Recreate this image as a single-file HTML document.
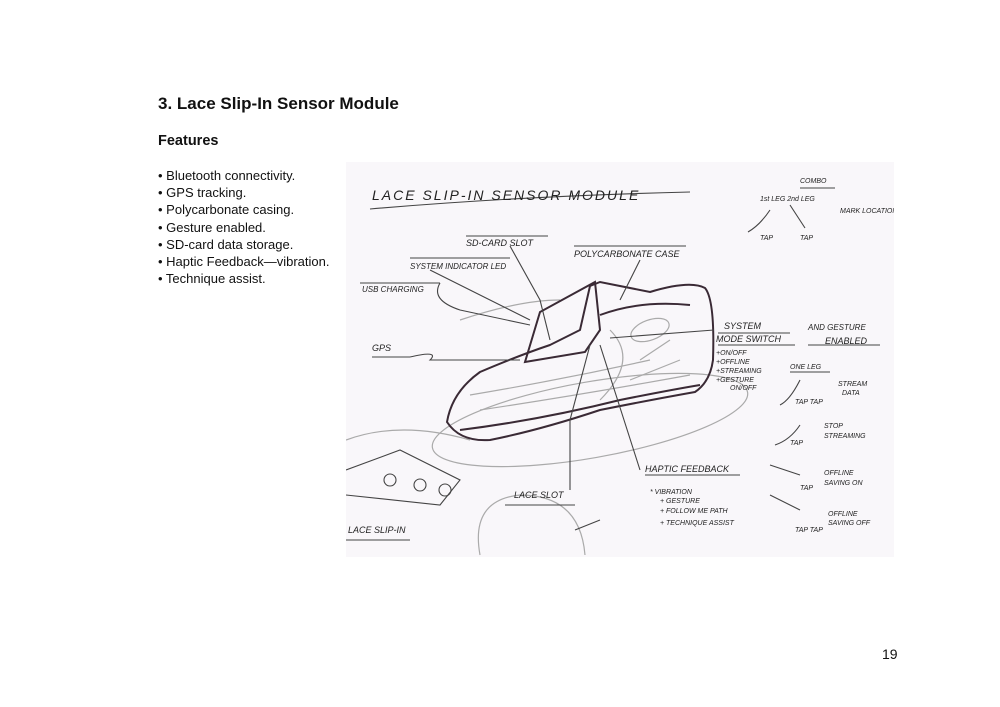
<!DOCTYPE html>
<html><head><meta charset="utf-8"><style>
body{margin:0;width:1000px;height:707px;background:#fff;position:relative;font-family:"Liberation Sans",sans-serif;color:#111;overflow:hidden}
h1{position:absolute;left:158px;top:94px;margin:0;font-size:17px;font-weight:bold}
h2{position:absolute;left:158px;top:133px;margin:0;font-size:14.5px;font-weight:bold}
ul{position:absolute;left:158px;top:167px;margin:0;padding:0;list-style:none;font-size:13px;line-height:17.2px}
.pn{position:absolute;left:882px;top:646px;font-size:14px}
svg{position:absolute;left:346px;top:162px}
svg text{font-family:"Liberation Sans",sans-serif;fill:#222;font-style:italic}
</style></head><body>
<h1>3. Lace Slip-In Sensor Module</h1>
<h2>Features</h2>
<ul>
<li>• Bluetooth connectivity.</li>
<li>• GPS tracking.</li>
<li>• Polycarbonate casing.</li>
<li>• Gesture enabled.</li>
<li>• SD-card data storage.</li>
<li>• Haptic Feedback—vibration.</li>
<li>• Technique assist.</li>
</ul>
<div class="pn">19</div>
<svg width="548" height="395" viewBox="346 162 548 395">
<rect x="346" y="162" width="548" height="395" fill="#f9f7fa"/>
<g fill="none" stroke="#aaa" stroke-width="1.2">
<ellipse cx="590" cy="420" rx="160" ry="38" transform="rotate(-10 590 420)"/>
<path d="M346 440 Q400 420 470 440"/>
<path d="M480 555 Q470 500 520 495 Q580 495 585 555"/>
<ellipse cx="650" cy="330" rx="20" ry="10" transform="rotate(-20 650 330)"/>
<path d="M460 320 Q520 300 560 300"/>
<path d="M470 395 Q560 380 650 360 M480 410 Q580 395 690 375 M610 330 Q640 360 600 400 M640 360 L670 340 M630 380 L680 360"/>
</g>
<g fill="none" stroke="#3a2a35" stroke-width="2">
<path d="M447 422 Q452 392 480 372 Q520 355 550 345 L580 330 L590 286 L600 282 L650 292 Q690 280 705 288 Q715 300 713 360 Q710 382 695 392 Q650 400 600 410 Q540 430 490 440 Q460 442 447 422 Z"/>
<path d="M525 362 L540 312 L595 282 L600 330 L585 352 Z"/>
<path d="M600 315 Q640 300 690 305"/>
<path d="M460 430 Q540 420 620 400 Q670 390 700 385"/>
</g>
<g fill="none" stroke="#444" stroke-width="1.1">
<path d="M370 209 Q520 196 690 192"/>
<path d="M466 236 L548 236 M410 258 L510 258 M360 283 L440 283 M372 357 L410 357 M574 246 L686 246 M718 333 L790 333 M718 345 L795 345 M808 345 L880 345 M645 475 L740 475 M505 505 L575 505 M346 540 L410 540 M790 372 L830 372 M800 188 L835 188"/>
<path d="M510 246 L540 300 L550 340 M440 283 Q430 300 460 310 L530 325 M410 357 Q440 350 430 360 L520 360 M430 270 L530 320 M640 260 L620 300 M590 345 L570 420 L570 490 M600 345 L640 470 M714 330 L610 338"/>
<path d="M346 470 L400 450 L460 480 L440 505 L346 495"/>
<circle cx="390" cy="480" r="6"/><circle cx="420" cy="485" r="6"/><circle cx="445" cy="490" r="6"/>
<path d="M600 520 L575 530 M770 210 Q760 225 748 232 M790 205 L805 228 M800 380 Q790 400 780 405 M800 425 Q790 440 775 445 M770 465 L800 475 M770 495 L800 510"/>
</g>
<g font-size="9">
<text x="372" y="200" font-size="14" letter-spacing="2">LACE SLIP-IN SENSOR MODULE</text>
<text x="466" y="246">SD-CARD SLOT</text>
<text x="410" y="269" font-size="8">SYSTEM INDICATOR LED</text>
<text x="574" y="257">POLYCARBONATE CASE</text>
<text x="362" y="292" font-size="8">USB CHARGING</text>
<text x="372" y="351">GPS</text>
<text x="724" y="329">SYSTEM</text>
<text x="716" y="342">MODE SWITCH</text>
<text x="808" y="330" font-size="8">AND GESTURE</text>
<text x="825" y="344">ENABLED</text>
<g font-size="7"><text x="716" y="355">+ON/OFF</text><text x="716" y="364">+OFFLINE</text><text x="716" y="373">+STREAMING</text><text x="716" y="382">+GESTURE</text><text x="730" y="390">ON/OFF</text>
<text x="790" y="369">ONE LEG</text><text x="838" y="386">STREAM</text><text x="842" y="395">DATA</text><text x="795" y="404">TAP TAP</text>
<text x="824" y="428">STOP</text><text x="824" y="438">STREAMING</text><text x="790" y="445">TAP</text>
<text x="824" y="475">OFFLINE</text><text x="824" y="485">SAVING ON</text><text x="800" y="490">TAP</text>
<text x="828" y="516">OFFLINE</text><text x="828" y="525">SAVING OFF</text><text x="795" y="532">TAP TAP</text>
<text x="800" y="183">COMBO</text><text x="760" y="201">1st LEG 2nd LEG</text><text x="840" y="213">MARK LOCATION</text>
<text x="760" y="240">TAP</text><text x="800" y="240">TAP</text>
<text x="650" y="494">* VIBRATION</text><text x="660" y="503">+ GESTURE</text><text x="660" y="513">+ FOLLOW ME PATH</text><text x="660" y="525">+ TECHNIQUE ASSIST</text></g>
<text x="645" y="472">HAPTIC FEEDBACK</text>
<text x="514" y="498">LACE SLOT</text>
<text x="348" y="533">LACE SLIP-IN</text>
</g>
</svg>
</body></html>
